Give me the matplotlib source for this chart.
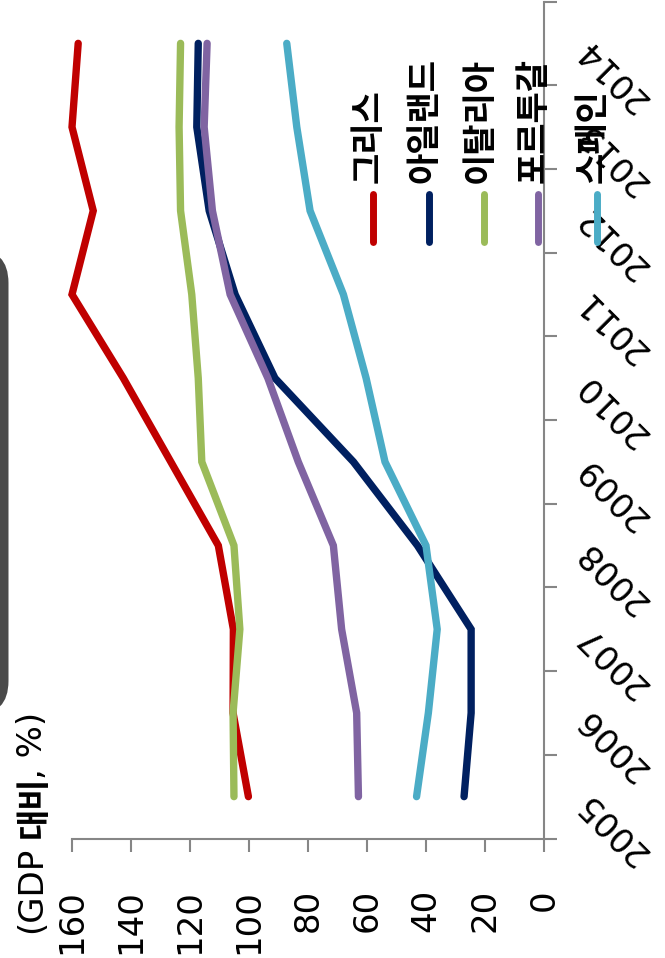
import matplotlib
matplotlib.use("Agg")
import matplotlib.pyplot as plt
from matplotlib.patches import FancyBboxPatch
from matplotlib.lines import Line2D
from matplotlib.transforms import IdentityTransform

years = [2005, 2006, 2007, 2008, 2009, 2010, 2011, 2012, 2013, 2014]
series_names = ["그리스", "아일랜드", "이탈리아", "포르투갈", "스페인"]
greece = [100.2, 105.4, 105.3, 110.4, 126.5, 142.6, 160.0, 152.8, 160.0, 157.9]
ireland = [27.1, 24.7, 24.7, 42.9, 64.6, 91.2, 104.7, 113.5, 117.7, 117.2]
italy = [105.1, 105.4, 103.1, 105.1, 116.0, 117.2, 119.4, 123.2, 123.7, 123.2]
portugal = [62.9, 63.5, 68.6, 71.4, 83.3, 93.6, 106.4, 112.4, 115.2, 114.2]
spain = [43.2, 39.2, 36.2, 40.0, 53.9, 60.3, 68.0, 79.3, 83.8, 87.2]
value_ticks = [0, 20, 40, 60, 80, 100, 120, 140, 160]
unit_parts = ["(GDP", "대비", ", %)"]

colors = ["#C00000", "#002060", "#9BBB59", "#8064A2", "#4BACC6"]
all_series = [greece, ireland, italy, portugal, spain]

W, H = 665, 958
fig = plt.figure(figsize=(W / 100, H / 100), dpi=100)
fig.patch.set_facecolor("white")

def fx(px):
    return px / W

def fy(py):
    return (H - py) / H

ax = fig.add_axes([fx(72), fy(838.5), (544 - 72) / W, 837 / H])
ax.set_facecolor("white")

for vals, c in zip(all_series, colors):
    ax.plot(vals, years, color=c, lw=5.3, solid_capstyle="round",
            solid_joinstyle="miter", clip_on=False)

ax.set_xlim(160, 0)
ax.set_ylim(years[0] - 0.5, years[-1] + 0.5)

gray = "#868686"
for s in ["left", "top"]:
    ax.spines[s].set_visible(False)
for s in ["bottom", "right"]:
    ax.spines[s].set_color(gray)
    ax.spines[s].set_linewidth(1.5)

ax.set_xticks(value_ticks)
ax.set_xticklabels([str(v) for v in value_ticks])
ax.tick_params(axis="x", direction="out", length=9.4, width=1.5, color=gray,
               labelsize=24.5, pad=27, labelrotation=90)

ax.yaxis.tick_right()
ax.set_yticks(years)
ax.set_yticks([y - 0.5 for y in years] + [years[-1] + 0.5], minor=True)
ax.set_yticklabels([str(y) for y in years])
ax.tick_params(axis="y", which="major", length=0, labelsize=24.5, pad=27)
ax.tick_params(axis="y", which="minor", direction="out", length=9.4, width=1.5,
               color=gray)
for lab in ax.get_yticklabels():
    lab.set_rotation(135)
    lab.set_rotation_mode("anchor")
    lab.set_ha("right")
    lab.set_va("center")

kfam = ["Noto Sans CJK KR", "DejaVu Sans"]

# legend (manual, rotated)
leg_x = [373, 428.5, 483.5, 538, 596.5]
for name, c, hx in zip(series_names, colors, leg_x):
    fig.add_artist(Line2D([fx(hx), fx(hx)], [fy(193.5), fy(241.5)], color=c,
                          lw=5.0, solid_capstyle="round",
                          transform=fig.transFigure))
    fig.text(fx(hx + 6), fy(183), name, rotation=90, rotation_mode="anchor",
             ha="left", va="baseline", fontsize=24.5, fontweight="bold",
             family=kfam, color="black")

# unit label: regular latin parts, bold hangul part
t1 = fig.text(fx(32), fy(933), unit_parts[0], rotation=90, ha="center",
              va="bottom", fontsize=24.5, family="DejaVu Sans", color="black")
fig.canvas.draw()
r = fig.canvas.get_renderer()
bb1 = t1.get_window_extent(r)
cx = (bb1.x0 + bb1.x1) / 2
t2 = fig.text(cx + 1, bb1.y1 + 9, unit_parts[1], rotation=90, ha="center",
              va="bottom", fontsize=24.5, fontweight="bold", family=kfam,
              color="black", transform=IdentityTransform())
fig.canvas.draw()
bb2 = t2.get_window_extent(r)
t3 = fig.text(cx, bb2.y1 - 4, unit_parts[2], rotation=90, ha="center",
              va="bottom", fontsize=24.5, family="DejaVu Sans", color="black",
              transform=IdentityTransform())

# decorative dark rounded panel at the left edge
panel = FancyBboxPatch((-45, H - 715), 53.5, 466,
                       boxstyle="round,pad=0,rounding_size=34",
                       transform=IdentityTransform(), facecolor="#4a4a4a",
                       edgecolor="none")
fig.add_artist(panel)

fig.savefig("out.png", dpi=100, facecolor="white")
